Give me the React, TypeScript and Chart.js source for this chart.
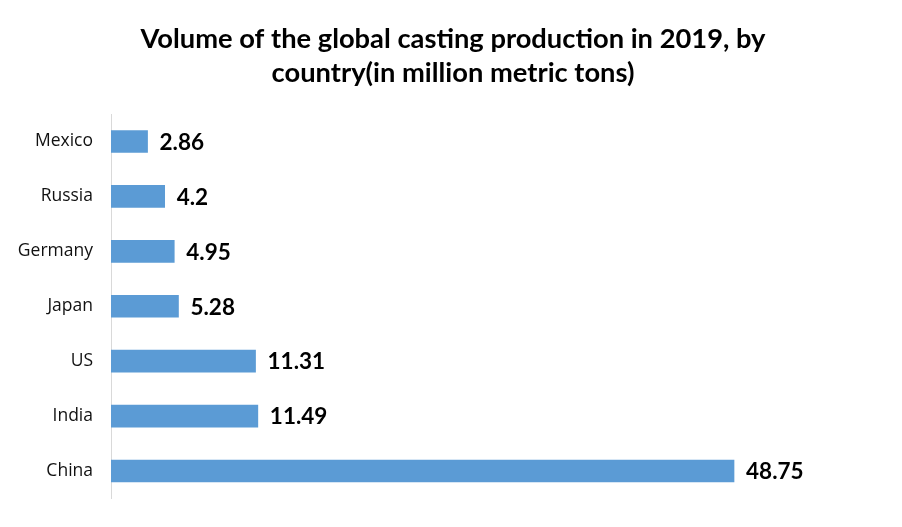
import React, { useEffect, useRef } from "react";
import { Chart, registerables } from "chart.js";

Chart.register(...registerables);

const categories = ["Mexico", "Russia", "Germany", "Japan", "US", "India", "China"];
const values = [2.86, 4.2, 4.95, 5.28, 11.31, 11.49, 48.75];
const valueLabels = ["2.86", "4.2", "4.95", "5.28", "11.31", "11.49", "48.75"];
const titleLines = ["Volume of the global casting production in 2019, by", "country(in million metric tons)"];

const FONT = "Lato, 'Open Sans', 'Liberation Sans', sans-serif";
const TICK_FONT = "'Open Sans', 'Liberation Sans', sans-serif";

const labelPlugin = {
  id: "valueLabels",
  afterDatasetsDraw(chart: any) {
    const ctx = chart.ctx;
    const meta = chart.getDatasetMeta(0);
    ctx.save();
    ctx.font = `bold 22.5px ${FONT}`;
    ctx.fillStyle = "#000000";
    ctx.textAlign = "left";
    ctx.textBaseline = "middle";
    meta.data.forEach((bar: any, i: number) => {
      ctx.fillText(valueLabels[i], bar.x + 12, bar.y + 1);
    });
    ctx.restore();
  },
};

const titlePlugin = {
  id: "centeredTitle",
  afterDraw(chart: any) {
    const ctx = chart.ctx;
    ctx.save();
    ctx.font = `bold 27.3px ${FONT}`;
    ctx.fillStyle = "#000000";
    ctx.textAlign = "center";
    ctx.textBaseline = "middle";
    titleLines.forEach((line, i) => {
      ctx.fillText(line, chart.width / 2 + 2, 39 + i * 34);
    });
    ctx.restore();
  },
};

export default function App() {
  const ref = useRef<HTMLCanvasElement>(null);
  useEffect(() => {
    if (!ref.current) return;
    const chart = new Chart(ref.current, {
      type: "bar",
      data: {
        labels: categories,
        datasets: [
          {
            data: values,
            backgroundColor: "#5B9BD5",
            barThickness: 22,
          },
        ],
      },
      options: {
        indexAxis: "y",
        animation: false,
        responsive: false,
        devicePixelRatio: 1,
        layout: { padding: { left: 0, right: 152, top: 114, bottom: 11.5 } },
        plugins: {
          legend: { display: false },
          tooltip: { enabled: false },
          title: { display: false },
        },
        scales: {
          x: { display: false, min: 0, max: 50 },
          y: {
            grid: { display: false, drawTicks: false },
            border: { display: true, color: "#d9d9d9", width: 1 },
            ticks: {
              color: "#111111",
              font: { family: TICK_FONT, size: 17.5 },
              padding: 18,
            },
            afterFit: (s: any) => {
              s.width = 111;
            },
          },
        },
      },
      plugins: [labelPlugin, titlePlugin],
    });
    return () => chart.destroy();
  }, []);
  return (
    <div style={{ position: "absolute", left: 0, top: 0, width: 902, height: 527, background: "#fff" }}>
      <canvas ref={ref} width={902} height={527} style={{ width: 902, height: 527 }} />
    </div>
  );
}
